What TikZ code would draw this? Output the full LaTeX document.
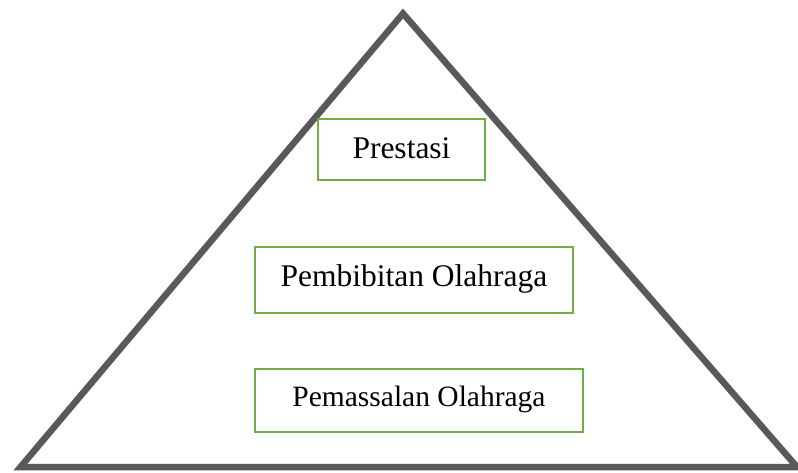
\documentclass[tikz,border=0pt]{standalone}
\usepackage{fontspec}
\setmainfont{Liberation Serif}
\definecolor{tri}{HTML}{595959}
\definecolor{grn}{HTML}{70AD47}
\begin{document}
\begin{tikzpicture}[x=1pt,y=-1pt,
  level/.style={draw=grn,line width=2.2pt,inner sep=0pt,outer sep=0pt,text depth=0pt,fill=white}]
\useasboundingbox (0,0) rectangle (798,472);
\draw[tri,line width=6.5pt,line join=miter] (403,13.5) -- (20.5,467) -- (797,467) -- cycle;
\node[level,minimum width=167pt,minimum height=61pt,text height=17pt,font=\fontsize{31.5pt}{36pt}\selectfont] (prestasi) at (401.5,149.5) {Prestasi};
\node[level,minimum width=318pt,minimum height=66pt,text height=13.4pt,font=\fontsize{31.5pt}{36pt}\selectfont] (pembibitan) at (414,280) {Pembibitan Olahraga};
\node[level,minimum width=328pt,minimum height=63pt,text height=12.4pt,font=\fontsize{29.5pt}{34pt}\selectfont] (pemassalan) at (419,400.5) {Pemassalan Olahraga};
\end{tikzpicture}
\end{document}
